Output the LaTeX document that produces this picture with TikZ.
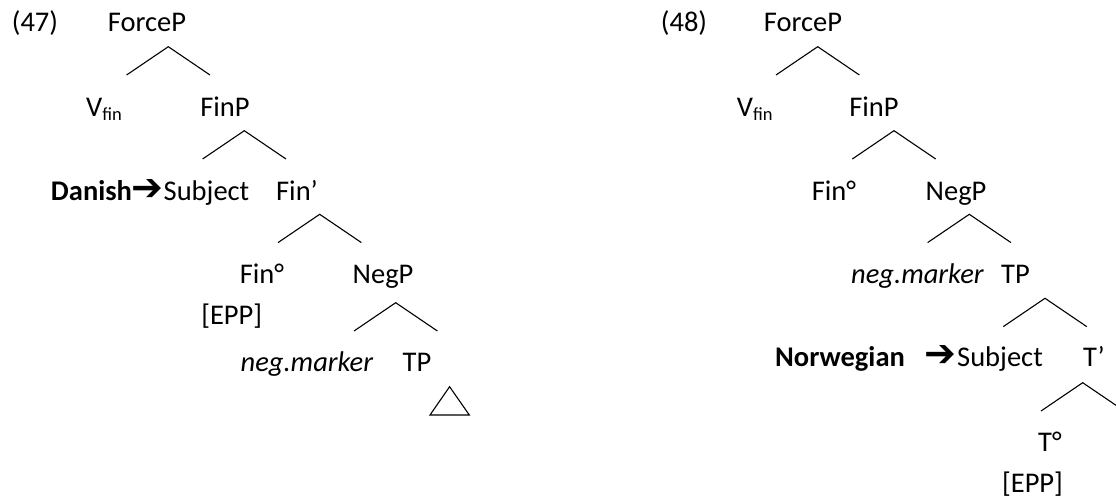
\documentclass[tikz,border=0pt]{standalone}
\usepackage{fontspec}
\usetikzlibrary{calc}
\setmainfont{Carlito}
\newfontfamily\symfont{DejaVu Sans}
\newcommand{\arr}{{\symfont\fontsize{38}{40}\selectfont ➔}}
\newcommand{\sub}[1]{\raisebox{-4pt}{\fontsize{18.5}{20}\selectfont #1}}
\begin{document}
\begin{tikzpicture}[x=1pt,y=-1pt,
  lab/.style={inner sep=0pt,anchor=base,font=\fontsize{28.5}{34}\selectfont},
  edge/.style={line width=1.1pt,black}]
\useasboundingbox (0,0) rectangle (1116,500);
\newcommand{\branch}[2]{%
  \coordinate (#1-apex) at (#2);
  \coordinate (#1-l) at ($(#2)+(-41.7,28.3)$);
  \coordinate (#1-r) at ($(#2)+(41.7,28.3)$);
  \draw[edge] (#1-l) -- (#1-apex) -- (#1-r);}
% ---------- (47) ----------
\node[lab] (n47) at (35,32) {(47)};
\node[lab] (force1) at (147,32) {ForceP};
\node[lab,anchor=base west] (vfin1) at (86,117) {V\sub{fin}};
\node[lab] (finp1) at (225,117) {FinP};
\node[lab,anchor=base east] (danish) at (164,200) {\textbf{Danish}\arr};
\node[lab] (subj1) at (206.5,200) {Subject};
\node[lab] (finbar1) at (297,200) {Fin’};
\node[lab] (fin1) at (262,283) {Fin°};
\node[lab] (epp1) at (231.7,324) {[EPP]};
\node[lab] (negp1) at (383,283) {NegP};
\node[lab] (neg1) at (307,371) {\textit{neg.marker}};
\node[lab] (tp1) at (417,371) {TP};
\branch{b1}{168.3,46.7}
\branch{b2}{244.3,130.7}
\branch{b3}{319.7,214.3}
\branch{b4}{395.7,302.7}
\coordinate (tri-top) at (449.6,386.7);
\coordinate (tri-l) at (430,415);
\coordinate (tri-r) at (469.3,415);
\draw[edge] (tri-top) -- (tri-l) -- (tri-r) -- cycle;
% ---------- (48) ----------
\node[lab] (n48) at (684,32) {(48)};
\node[lab] (force2) at (803,32) {ForceP};
\node[lab,anchor=base west] (vfin2) at (736.7,117) {V\sub{fin}};
\node[lab] (finp2) at (874,117) {FinP};
\node[lab] (fin2) at (834,200) {Fin°};
\node[lab] (negp2) at (956,200) {NegP};
\node[lab] (neg2) at (917.5,283) {\textit{neg.marker}};
\node[lab] (tp2) at (1015.5,283) {TP};
\node[lab,anchor=base west] (norw) at (775,366.7) {\textbf{Norwegian}};
\node[lab,anchor=base east] (arr2) at (957,366.7) {\arr};
\node[lab] (subj2) at (1000,366.7) {Subject};
\node[lab] (tbar2) at (1094,366.7) {T’};
\node[lab] (t2) at (1050,451.7) {T°};
\node[lab] (epp2) at (1032.5,492) {[EPP]};
\branch{c1}{817.7,46.7}
\branch{c2}{894,130.7}
\branch{c3}{969.3,214.3}
\branch{c4}{1045,298.3}
\branch{c5}{1082.7,382.7}
\end{tikzpicture}
\end{document}
